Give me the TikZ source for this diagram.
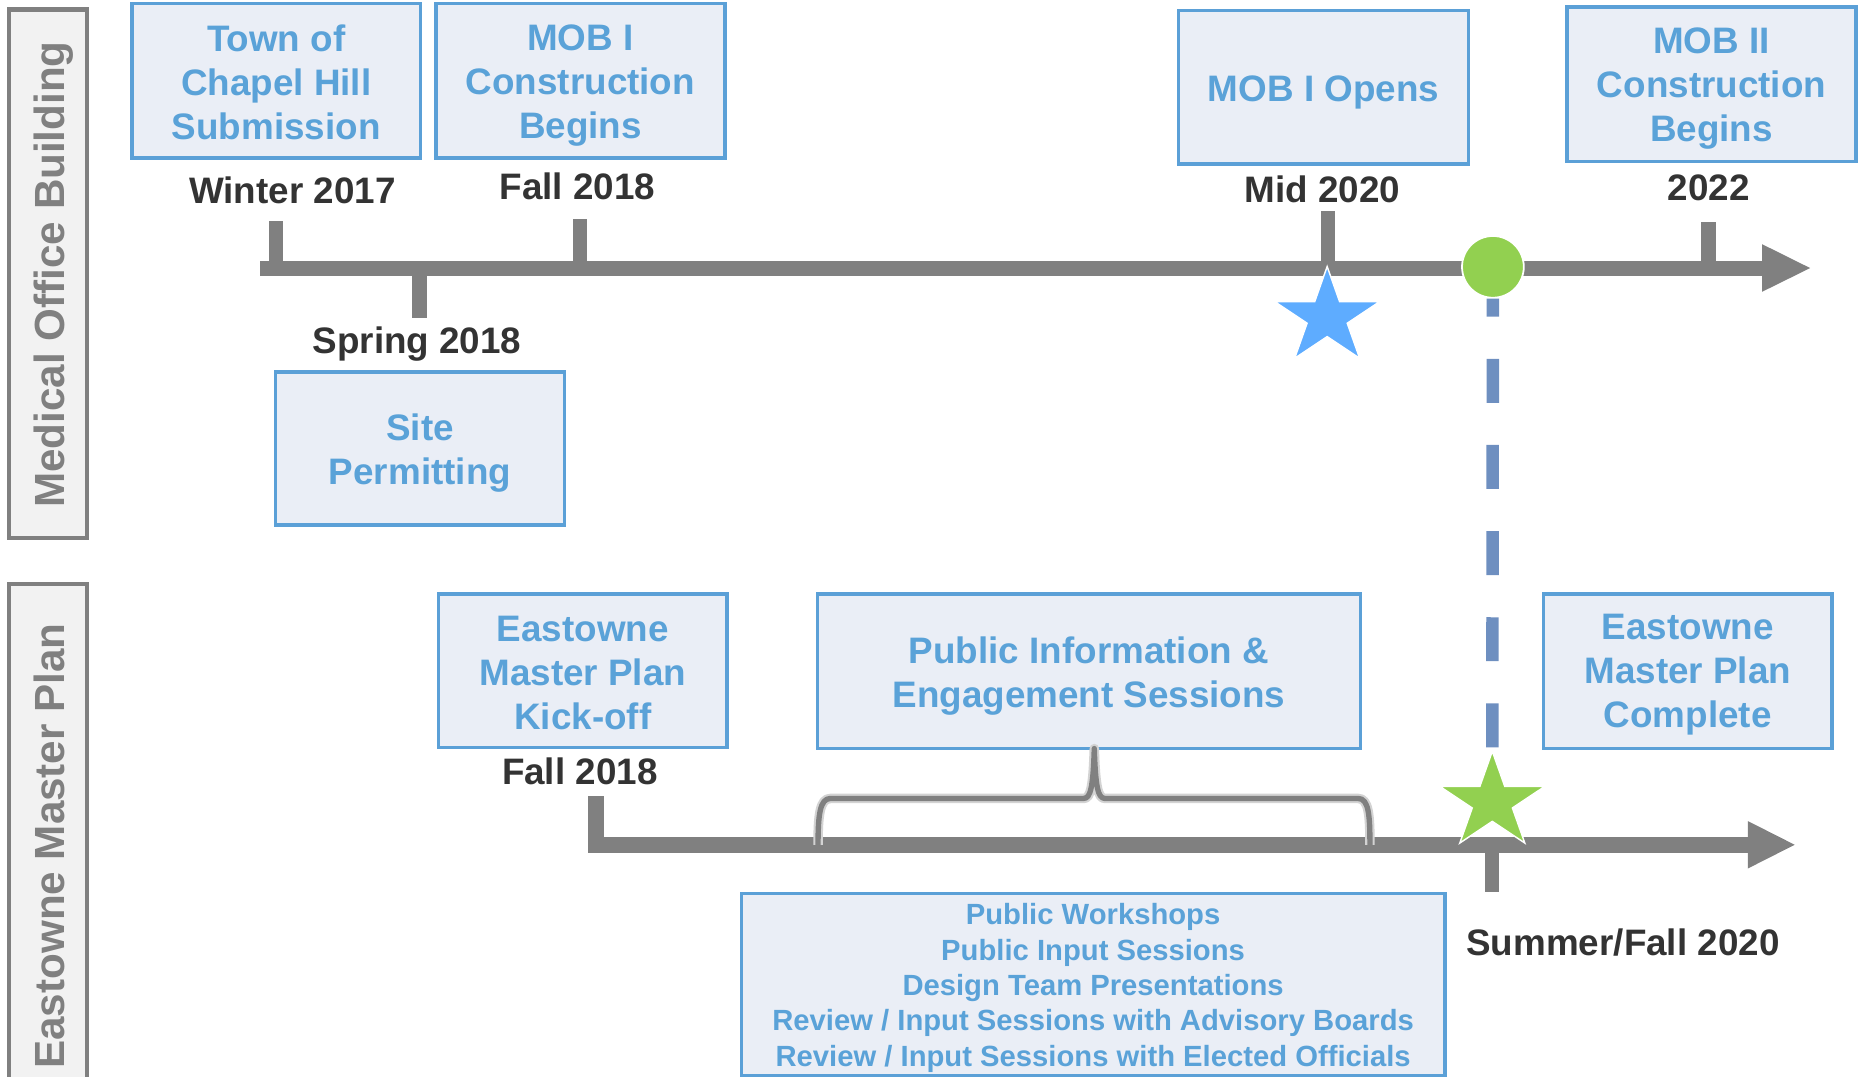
\documentclass[tikz,border=0pt]{standalone}
\usepackage{fontspec}
\setmainfont{Liberation Sans}
\usetikzlibrary{shapes.geometric}
\definecolor{boxfill}{HTML}{EAEEF6}
\definecolor{boxline}{HTML}{5BA0D7}
\definecolor{boxtext}{HTML}{5AA2D8}
\definecolor{tl}{HTML}{808080}
\definecolor{datetext}{HTML}{333333}
\definecolor{starblue}{HTML}{5EACFF}
\definecolor{stargreen}{HTML}{92D050}
\definecolor{dashcol}{HTML}{6E8FC0}
\definecolor{lblfill}{HTML}{F2F2F2}
\tikzset{pics/fivestar/.style={code={
  \filldraw[fill=#1, draw=white, line width=1.2pt] (-90:46.5 and 42.7)
  \foreach \a/\r in {-54/16.3,-18/42.7,18/16.3,54/42.7,90/16.3,126/42.7,162/16.3,198/42.7,234/16.3} { -- (\a:{1.09*\r} and \r) } -- cycle;
}}}
\begin{document}
\begin{tikzpicture}[x=1pt,y=-1pt,
  evbox/.style={draw=boxline, line width=3pt, fill=boxfill, inner sep=0pt, minimum width=243pt, minimum height=130pt},
  evtext/.style={text=boxtext, font=\fontsize{31}{37}\selectfont\bfseries, align=center, inner sep=0pt},
  datelbl/.style={text=datetext, font=\fontsize{31}{37}\selectfont\bfseries, inner sep=0pt, text height=22.3pt, text depth=0pt},
  lanebox/.style={draw=tl, line width=3.5pt, fill=lblfill, minimum width=66pt, inner sep=0pt},
  lanetext/.style={text=tl, font=\fontsize{35.5}{40}\selectfont\bfseries, rotate=90, anchor=base, inner sep=0pt},
  tline/.style={draw=tl, line width=13pt},
  tick/.style={draw=tl, line width=12pt},
  bracehalo/.style={draw=tl!35, line width=8pt, line join=round},
  bracestyle/.style={draw=tl, line width=4.5pt, line join=round},
]
\useasboundingbox (0,0) rectangle (1568,906);

% lane labels
\node[lanebox, minimum height=445pt] (lane1) at (40.5,230.5) {};
\node[lanetext] (lane1t) at (54.5,231) {Medical Office Building};
\node[lanebox, minimum height=460pt, anchor=north] (lane2) at (40.5,490) {};
\node[lanetext] (lane2t) at (54.5,712) {Eastowne Master Plan};

% top boxes
\node[evbox] (b1) at (232.5,68) {};
\node[evtext] (b1t) at (232.5,69.5) {Town of\\Chapel Hill\\Submission};
\node[evbox] (b2) at (488.5,68) {};
\node[evtext] (b2t) at (488.5,72) {MOB I\\Construction\\Begins};
\node[evbox, minimum width=244pt, minimum height=129pt] (b3) at (1114,73.5) {};
\node[evtext] (b3t) at (1114,77.5) {MOB I Opens};
\node[evbox] (b4) at (1440.5,71) {};
\node[evtext] (b4t) at (1440.5,74.5) {MOB II\\Construction\\Begins};
\node[evbox, minimum height=129pt] (b5) at (353.5,377.5) {};
\node[evtext] (b5t) at (353.5,381.5) {Site\\Permitting};

% bottom boxes
\node[evbox, minimum height=129pt] (b6) at (490.5,564.5) {};
\node[evtext] (b6t) at (490.5,566.5) {Eastowne\\Master Plan\\Kick-off};
\node[evbox, minimum width=457pt] (b7) at (916.5,565) {};
\node[evtext] (b7t) at (916.5,569) {Public Information \&\\Engagement Sessions};
\node[evbox] (b8) at (1420.5,565) {};
\node[evtext] (b8t) at (1420.5,568) {Eastowne\\Master Plan\\Complete};
\node[evbox, minimum width=592pt, minimum height=153pt] (b9) at (920,828.5) {};
\node[evtext, font=\fontsize{24.6}{29.8}\selectfont\bfseries] (b9t) at (920,831.5)
  {Public Workshops\\Public Input Sessions\\Design Team Presentations\\Review / Input Sessions with Advisory Boards\\Review / Input Sessions with Elected Officials};

% date labels
\node[datelbl] (d1) at (246,160) {Winter 2017};
\node[datelbl] (d2) at (486,157) {Fall 2018};
\node[datelbl] (d3) at (1113,159) {Mid 2020};
\node[datelbl] (d4) at (1438,158) {2022};
\node[datelbl] (d5) at (351,286) {Spring 2018};
\node[datelbl] (d6) at (488,649) {Fall 2018};
\node[datelbl] (d7) at (1366,793) {Summer/Fall 2020};

% timeline 1
\coordinate (t1s) at (219,226);
\coordinate (t1e) at (1485,226);
\draw[tline] (t1s) -- (t1e);
\fill[tl] (1483,205.5) -- (1523.5,225.6) -- (1483,245.6) -- cycle;
\draw[tick] (232,226) -- (232,186);
\draw[tick] (353,226) -- (353,268);
\draw[tick] (488,226) -- (488,184);
\draw[tick] (1118,226) -- (1118,178);
\draw[tick] (1438,226) -- (1438,187);

% timeline 2
\coordinate (t2a) at (501.5,670);
\coordinate (t2c) at (501.5,711);
\coordinate (t2e) at (1473,711);
\draw[tline, line join=miter] (t2a) -- (t2c) -- (t2e);
\fill[tl] (1471,691) -- (1510.5,711) -- (1471,731) -- cycle;
\draw[tick] (1256,711) -- (1256,751);

% brace
\coordinate (bl) at (688.5,711);
\coordinate (br) at (1153,711);
\coordinate (btip) at (921,630);
\foreach \st in {bracehalo,bracestyle}{
\draw[\st] (bl) .. controls (688.5,686) and (690,672) .. (699,672) -- (912,672)
  .. controls (918,672) and (920,662) .. (btip) .. controls (922,662) and (924,672) .. (930,672)
  -- (1143,672) .. controls (1152,672) and (1153,686) .. (br);
}

% milestone markers
\pic at (1117,267) {fivestar=starblue};
\node[circle, fill=stargreen, draw=white, line width=1.5pt, minimum size=52pt, inner sep=0pt] (gdot) at (1256.5,224.6) {};
\coordinate (gtop) at (1256,629);
\draw[dashcol, line width=10.5pt, dash pattern=on 37pt off 35.5pt] (gtop) -- (gdot.south);
\pic at (1256,675) {fivestar=stargreen};
\end{tikzpicture}
\end{document}
